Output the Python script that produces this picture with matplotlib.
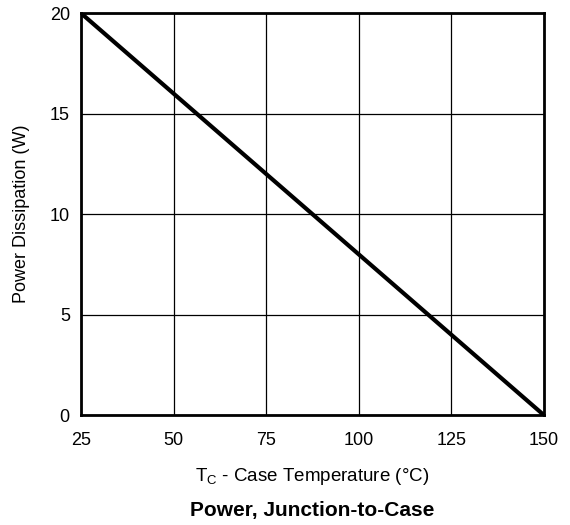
import matplotlib
matplotlib.use('Agg')
from matplotlib import pyplot as plt

# Derating curve: power vs case temperature
case_temp = [25, 150]
power = [20, 0]
x_ticks = [25, 50, 75, 100, 125, 150]
y_ticks = [0, 5, 10, 15, 20]

plt.rcParams['font.family'] = ['Liberation Sans', 'DejaVu Sans']

fig = plt.figure(figsize=(5.7, 5.25), dpi=100)
ax = fig.add_axes([0.142, 0.2095, 0.812, 0.7655])

ax.plot(case_temp, power, color='black', linewidth=3, solid_capstyle='butt',
        zorder=3)

ax.set_xlim(25, 150)
ax.set_ylim(0, 20)
ax.set_xticks(x_ticks)
ax.set_yticks(y_ticks)
ax.tick_params(length=0, labelsize=13)
ax.tick_params(axis='x', pad=12)
ax.tick_params(axis='y', pad=8)
ax.grid(True, color='black', linewidth=0.9)
for s in ax.spines.values():
    s.set_linewidth(2)
    s.set_zorder(4)

# axis titles placed by hand to match the original layout
fig.text(0.548, 0.084, 'T$_\\mathregular{C}$ - Case Temperature (°C)',
         ha='center', va='baseline', fontsize=13.5)
fig.text(0.037, 0.592, 'Power Dissipation (W)', rotation=90,
         ha='center', va='center', fontsize=13)
fig.text(0.548, 0.017, 'Power, Junction-to-Case', ha='center',
         va='baseline', fontsize=15, fontweight='bold')

fig.savefig('out.png', dpi=100)
